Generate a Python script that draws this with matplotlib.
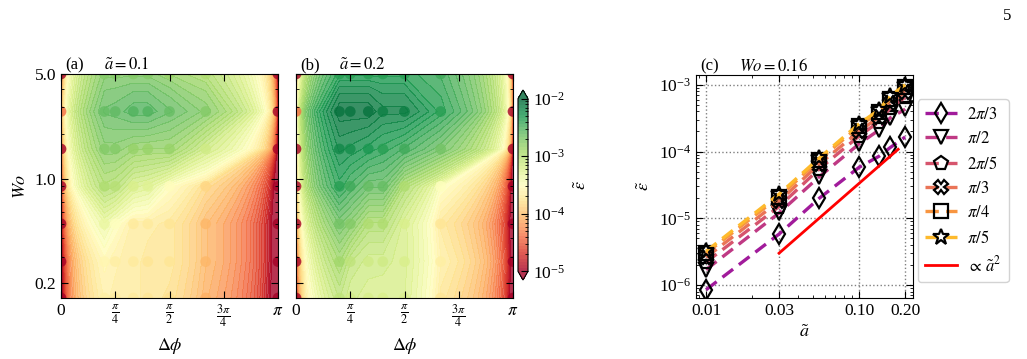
import numpy as np
import matplotlib
matplotlib.use('Agg')
import matplotlib.pyplot as plt
from matplotlib.colors import LogNorm
from matplotlib.ticker import (LogLocator, NullFormatter, FixedLocator,
                               FormatStrFormatter)

plt.rcParams['font.family'] = ['serif']
plt.rcParams['font.serif'] = ['Liberation Serif', 'DejaVu Serif']
plt.rcParams['mathtext.fontset'] = 'stix'
plt.rcParams['font.size'] = 11
plt.rcParams['xtick.direction'] = 'in'
plt.rcParams['ytick.direction'] = 'in'
plt.rcParams['xtick.top'] = True
plt.rcParams['ytick.right'] = True

# grid for panels (a), (b)
dphi = np.array([0, np.pi/5, np.pi/4, np.pi/3, 2*np.pi/5, np.pi/2, 2*np.pi/3, np.pi])
wo = np.array([0.16, 0.28, 0.5, 0.89, 1.58, 2.81, 5.0])

# rows follow wo (bottom -> top), columns follow dphi
eps_a01 = np.array([
    [2e-6, 2.2e-4, 2.1e-4, 2.0e-4, 1.8e-4, 1.6e-4, 8.0e-5, 2e-6],
    [2e-6, 2.6e-4, 2.2e-4, 2.0e-4, 1.8e-4, 1.8e-4, 9.0e-5, 2e-6],
    [2e-6, 4.5e-4, 3.2e-4, 2.0e-4, 2.0e-4, 1.8e-4, 9.0e-5, 2e-6],
    [2e-6, 1.1e-3, 1.0e-3, 6.3e-4, 5.6e-4, 3.0e-4, 1.4e-4, 2e-6],
    [2e-6, 1.8e-3, 1.8e-3, 1.5e-3, 1.45e-3, 1.45e-3, 7.2e-4, 1e-7],
    [4e-5, 2.5e-3, 2.6e-3, 3.0e-3, 3.0e-3, 2.5e-3, 1.8e-3, 1e-7],
    [1e-6, 1.8e-3, 1.8e-3, 1.8e-3, 1.8e-3, 1.45e-3, 1.1e-3, 1e-7],
])
eps_a02 = np.array([
    [2e-6, 8.9e-4, 7.0e-4, 6.5e-4, 6.3e-4, 6.0e-4, 1.8e-4, 2e-6],
    [2e-6, 1.3e-3, 8.9e-4, 7.2e-4, 7.2e-4, 6.3e-4, 2.2e-4, 2e-6],
    [2e-6, 2.2e-3, 1.8e-3, 1.1e-3, 1.1e-3, 6.3e-4, 1.8e-4, 2e-6],
    [2e-6, 4.4e-3, 3.5e-3, 2.5e-3, 2.5e-3, 1.1e-3, 3.2e-4, 2e-6],
    [2e-6, 6.2e-3, 5.8e-3, 5.0e-3, 4.4e-3, 3.5e-3, 2.2e-3, 1e-7],
    [4e-5, 8.5e-3, 8.5e-3, 8.5e-3, 7.1e-3, 7.1e-3, 4.4e-3, 1e-7],
    [1e-6, 4.4e-3, 4.4e-3, 4.4e-3, 4.4e-3, 4.4e-3, 3.5e-3, 1e-7],
])

# panel (c), Wo = 0.16
a_vals = [0.01, 0.03, 0.055, 0.1, 0.135, 0.16, 0.2]
eps_2pi3 = [8.5e-7, 5.8e-6, 2.0e-5, 5.8e-5, 8.5e-5, 1.15e-4, 1.65e-4]
eps_pi2 = [1.7e-6, 1.2e-5, 4.2e-5, 1.3e-4, 2.1e-4, 3.2e-4, 4.3e-4]
eps_2pi5 = [2.2e-6, 1.5e-5, 5.5e-5, 1.7e-4, 2.8e-4, 4.5e-4, 6.5e-4]
eps_pi3 = [2.6e-6, 1.8e-5, 6.5e-5, 2.0e-4, 3.3e-4, 5.3e-4, 7.8e-4]
eps_pi4 = [3.0e-6, 2.1e-5, 7.5e-5, 2.4e-4, 3.9e-4, 6.2e-4, 9.2e-4]
eps_pi5 = [3.2e-6, 2.3e-5, 8.0e-5, 2.6e-4, 4.2e-4, 6.8e-4, 1.0e-3]
series_labels = [r'$2\pi/3$', r'$\pi/2$', r'$2\pi/5$', r'$\pi/3$', r'$\pi/4$', r'$\pi/5$']
ref_a = [0.03, 0.18]
ref_eps = [3.0e-6, 1.08e-4]

fig = plt.figure(figsize=(10.27, 3.59), dpi=100)
W, H = 1027., 359.
ax_a = fig.add_axes([61/W, 1-298/H, 217/W, 224/H])
ax_b = fig.add_axes([296/W, 1-298/H, 217/W, 224/H])
cax = fig.add_axes([518/W, 1-280/H, 10/W, 190/H])
ax_c = fig.add_axes([696/W, 1-298/H, 217/W, 223/H])

norm = LogNorm(vmin=1e-5, vmax=1e-2)
levels = np.logspace(-5, -2, 55)
X, Y = np.meshgrid(dphi, wo)

for ax, eps, lab, aval in [(ax_a, eps_a01, '(a)', '0.1'), (ax_b, eps_a02, '(b)', '0.2')]:
    cf = ax.contourf(X, Y, eps, levels=levels, norm=norm, cmap='RdYlGn',
                     extend='both', alpha=0.8)
    ax.scatter(X.ravel(), Y.ravel(), c=eps.ravel(), s=60, norm=norm,
               cmap='RdYlGn', alpha=0.8, edgecolors='none')
    ax.set_yscale('log')
    ax.set_xlim(0, np.pi)
    ax.set_ylim(0.16, 5.0)
    ax.set_xticks([0, np.pi/4, np.pi/2, 3*np.pi/4, np.pi])
    ax.set_xticklabels(['0', r'$\frac{\pi}{4}$', r'$\frac{\pi}{2}$',
                        r'$\frac{3\pi}{4}$', r'$\pi$'], fontsize=14)
    ax.yaxis.set_major_locator(FixedLocator([0.2, 1.0, 5.0]))
    ax.yaxis.set_major_formatter(FormatStrFormatter('%.1f'))
    ax.yaxis.set_minor_formatter(NullFormatter())
    ax.tick_params(which='major', length=5, labelsize=12.5)
    ax.tick_params(which='minor', length=2.5)
    ax.tick_params(axis='x', which='minor', bottom=False, top=False)
    ax.set_xlabel(r'$\Delta\phi$', fontsize=13)
    ax.text(0.02, 1.02, lab, transform=ax.transAxes, fontsize=12)
    ax.text(0.20, 1.02, r'$\tilde{a} = %s$' % aval, transform=ax.transAxes,
            fontsize=12)

ax_a.set_ylabel(r'$Wo$', fontsize=13)
ax_b.set_yticklabels([])

cb = fig.colorbar(cf, cax=cax, extend='both', extendfrac=0.05)
cb.set_ticks([1e-5, 1e-4, 1e-3, 1e-2])
cb.ax.yaxis.set_minor_locator(LogLocator(subs=np.arange(2, 10)))
cb.ax.tick_params(which='major', length=5, labelsize=12.5, direction='in')
cb.ax.tick_params(which='minor', length=2.5, direction='in')
cb.set_label(r'$\tilde{\epsilon}$', fontsize=13, labelpad=6)

# panel (c)
colors = plt.cm.plasma(np.linspace(0.35, 0.85, 6))
markers = ['d', 'v', 'p', 'X', 's', '*']
msizes = [10, 10, 10, 10, 10, 12]
all_eps = [eps_2pi3, eps_pi2, eps_2pi5, eps_pi3, eps_pi4, eps_pi5]
for eps, lab, col, mk, ms in zip(all_eps, series_labels, colors, markers, msizes):
    ax_c.plot(a_vals, eps, ls='--', dashes=(4, 2.2), lw=2.4, color=col,
              marker=mk, ms=ms, mfc='none', mec='k', mew=1.6, label=lab)
ax_c.plot(ref_a, ref_eps, color='red', lw=2, label=r'$\propto\,\tilde{a}^2$')
ax_c.set_xscale('log')
ax_c.set_yscale('log')
ax_c.set_xlim(0.0086, 0.225)
ax_c.set_ylim(6.4e-7, 1.4e-3)
ax_c.xaxis.set_major_locator(FixedLocator([0.01, 0.03, 0.1, 0.2]))
ax_c.xaxis.set_major_formatter(FormatStrFormatter('%.2f'))
ax_c.xaxis.set_minor_formatter(NullFormatter())
ax_c.yaxis.set_major_locator(LogLocator(numticks=10))
ax_c.yaxis.set_minor_locator(LogLocator(subs=np.arange(2, 10), numticks=10))
ax_c.yaxis.set_minor_formatter(NullFormatter())
ax_c.tick_params(which='major', length=5, labelsize=12.5)
ax_c.tick_params(which='minor', length=2.5)
ax_c.grid(True, which='major', ls=':', color='gray', lw=1)
ax_c.set_xlabel(r'$\tilde{a}$', fontsize=13)
ax_c.set_ylabel(r'$\tilde{\epsilon}$', fontsize=13)
ax_c.text(0.02, 1.02, '(c)', transform=ax_c.transAxes, fontsize=12)
ax_c.text(0.20, 1.02, r'$Wo = 0.16$', transform=ax_c.transAxes, fontsize=12)
ax_c.legend(loc='center left', bbox_to_anchor=(1.022, 0.48), fontsize=12,
            handlelength=1.9, handletextpad=0.6, labelspacing=0.5,
            borderpad=0.45, borderaxespad=0, fancybox=True,
            edgecolor='lightgray', framealpha=1)

fig.text(0.985, 0.945, '5', fontsize=12, ha='right')

fig.savefig('out.png', dpi=100)
